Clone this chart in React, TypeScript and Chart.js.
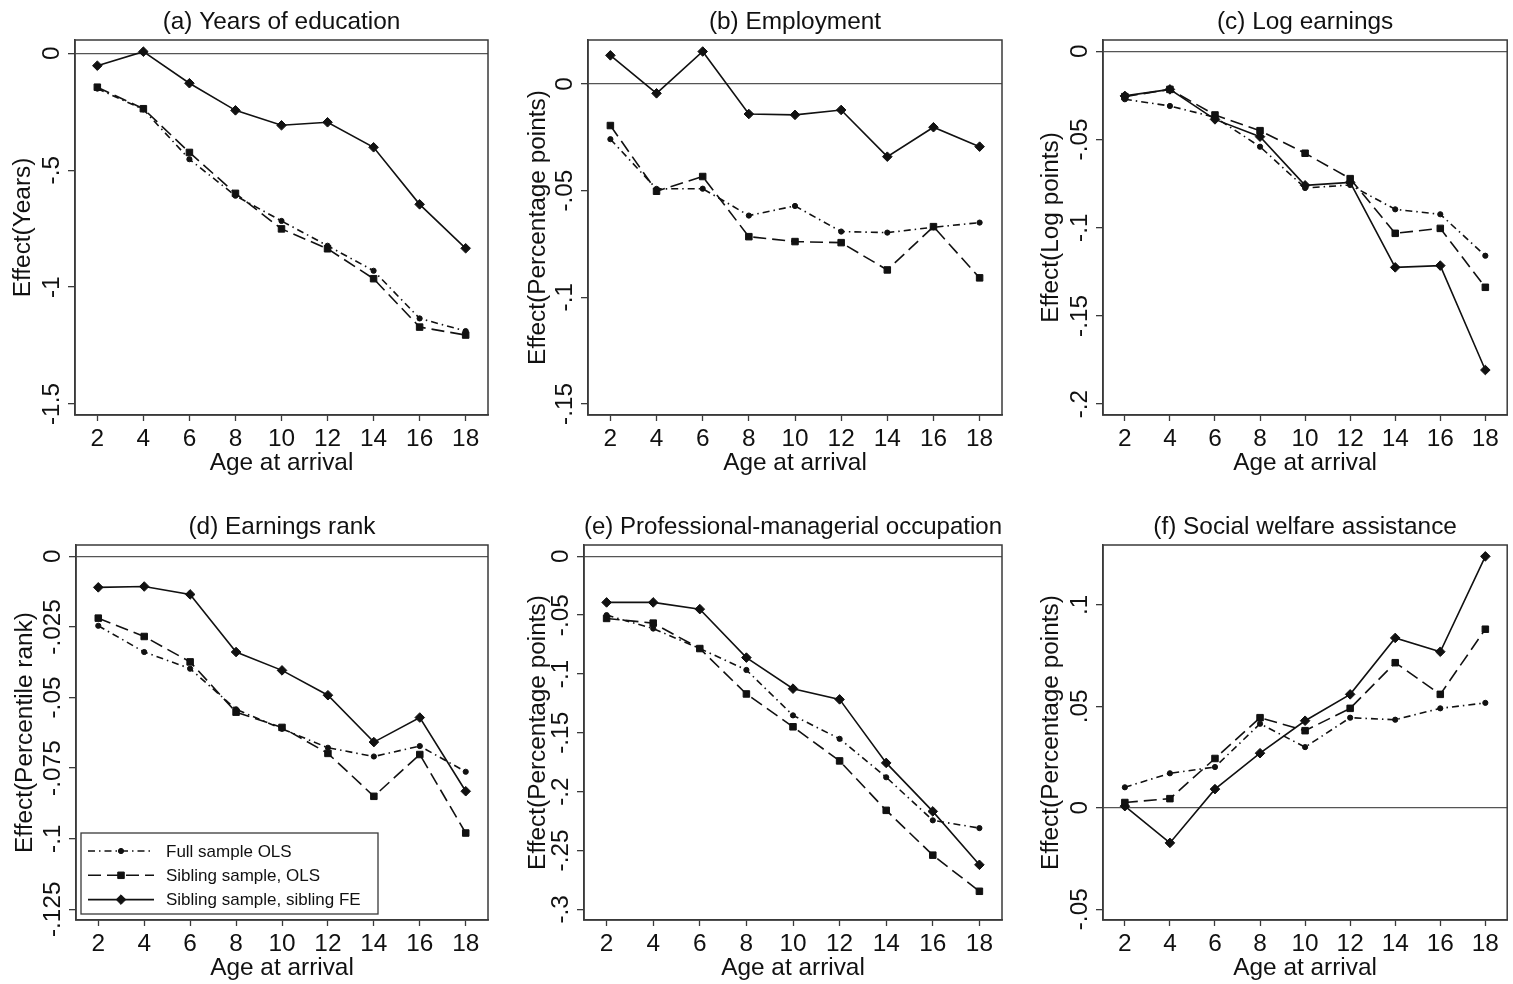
import React, { useEffect, useRef } from 'react';
import { Chart, registerables } from 'chart.js';

Chart.register(...registerables);

// ---------- data ----------
const ages = [2, 4, 6, 8, 10, 12, 14, 16, 18];
const seriesNames = ['Full sample OLS', 'Sibling sample, OLS', 'Sibling sample, sibling FE'];
const xTitle = 'Age at arrival';

const panelTitles = [
  '(a) Years of education',
  '(b) Employment',
  '(c) Log earnings',
  '(d) Earnings rank',
  '(e) Professional-managerial occupation',
  '(f) Social welfare assistance',
];
const yTitles = [
  'Effect(Years)',
  'Effect(Percentage points)',
  'Effect(Log points)',
  'Effect(Percentile rank)',
  'Effect(Percentage points)',
  'Effect(Percentage points)',
];

// (a) Years of education
const eduFull = [-0.151, -0.240, -0.453, -0.609, -0.717, -0.823, -0.930, -1.134, -1.188];
const eduSib = [-0.145, -0.237, -0.424, -0.599, -0.751, -0.836, -0.964, -1.171, -1.205];
const eduFE = [-0.053, 0.007, -0.128, -0.244, -0.308, -0.295, -0.402, -0.646, -0.834];

// (b) Employment
const empFull = [-0.0259, -0.0492, -0.0491, -0.0617, -0.0572, -0.0692, -0.0697, -0.0672, -0.0650];
const empSib = [-0.0195, -0.0503, -0.0434, -0.0716, -0.0739, -0.0744, -0.0872, -0.0669, -0.0909];
const empFE = [0.0134, -0.0044, 0.0152, -0.0141, -0.0145, -0.0122, -0.0341, -0.0203, -0.0294];

// (c) Log earnings
const logFull = [-0.0272, -0.0310, -0.0374, -0.0541, -0.0775, -0.0758, -0.0896, -0.0924, -0.1159];
const logSib = [-0.0257, -0.0216, -0.0361, -0.0450, -0.0578, -0.0722, -0.1032, -0.1004, -0.1338];
const logFE = [-0.0253, -0.0216, -0.0386, -0.0484, -0.0760, -0.0743, -0.1225, -0.1215, -0.1807];

// (d) Earnings rank
const rankFull = [-0.0246, -0.0339, -0.0398, -0.0542, -0.0611, -0.0678, -0.0709, -0.0672, -0.0763];
const rankSib = [-0.0219, -0.0284, -0.0374, -0.0552, -0.0606, -0.0698, -0.0850, -0.0702, -0.0980];
const rankFE = [-0.0110, -0.0107, -0.0135, -0.0339, -0.0404, -0.0492, -0.0658, -0.0571, -0.0832];

// (e) Professional-managerial occupation
const profFull = [-0.0500, -0.0614, -0.0784, -0.0966, -0.1352, -0.1551, -0.1878, -0.2244, -0.2310];
const profSib = [-0.0528, -0.0568, -0.0784, -0.1170, -0.1449, -0.1739, -0.2159, -0.2540, -0.2847];
const profFE = [-0.0392, -0.0392, -0.0449, -0.0861, -0.1125, -0.1216, -0.1756, -0.2168, -0.2622];

// (f) Social welfare assistance
const welfFull = [0.0101, 0.0170, 0.0201, 0.0414, 0.0299, 0.0444, 0.0434, 0.0490, 0.0517];
const welfSib = [0.0026, 0.0045, 0.0243, 0.0444, 0.0380, 0.0490, 0.0715, 0.0559, 0.0880];
const welfFE = [0.0008, -0.0173, 0.0092, 0.0269, 0.0429, 0.0559, 0.0837, 0.0769, 0.1239];

// y tick values
const ticksA = [0, -0.5, -1, -1.5];
const ticksB = [0, -0.05, -0.1, -0.15];
const ticksC = [0, -0.05, -0.1, -0.15, -0.2];
const ticksD = [0, -0.025, -0.05, -0.075, -0.1, -0.125];
const ticksE = [0, -0.05, -0.1, -0.15, -0.2, -0.25, -0.3];
const ticksF = [-0.05, 0, 0.05, 0.1];

// y ranges
const rangeA = [-1.547, 0.0569];
const rangeB = [-0.1552, 0.0206];
const rangeC = [-0.2062, 0.0064];
const rangeD = [-0.1288, 0.004];
const rangeE = [-0.3091, 0.0096];
const rangeF = [-0.0553, 0.1295];

// ---------- styles / layout ----------
const FAMILY = "'Liberation Sans', Arial, Helvetica, sans-serif";
const FS = 24.4;
const INK = '#111';
const FRAME = '#3a3a3a';
const Y_AXIS_W = 75;
const TOP_H = 40;
const BOTTOM_H = 62;
const TITLE_PAD_TOP = 10;

const seriesStyles = [
  { dash: [7, 4, 1.5, 4], point: 'circle', radius: 2.6 },
  { dash: [13, 6], point: 'rect', radius: 4.6 },
  { dash: [], point: 'rectRot', radius: 4.8 },
];

const panelBoxes = [
  { L: 75, T: 40, R: 488, B: 415, right: 10, yPad: 11 },
  { L: 588, T: 40, R: 1002, B: 415, right: 10, yPad: 13 },
  { L: 1103, T: 40, R: 1512, B: 415, right: 1, yPad: 11.3 },
  { L: 76, T: 545, R: 488, B: 920, right: 10, yPad: 11.7 },
  { L: 584, T: 545, R: 1002, B: 920, right: 10, yPad: 17 },
  { L: 1103, T: 545, R: 1512, B: 920, right: 1, yPad: 11.3 },
];

const panelSeries = [
  [eduFull, eduSib, eduFE],
  [empFull, empSib, empFE],
  [logFull, logSib, logFE],
  [rankFull, rankSib, rankFE],
  [profFull, profSib, profFE],
  [welfFull, welfSib, welfFE],
];
const panelTicks = [ticksA, ticksB, ticksC, ticksD, ticksE, ticksF];
const panelRanges = [rangeA, rangeB, rangeC, rangeD, rangeE, rangeF];

function fmt(v: number): string {
  if (Math.abs(v) < 1e-12) return '0';
  const s = String(+v.toFixed(4));
  return s.replace(/^(-?)0\./, '$1.');
}

function drawMarker(ctx: CanvasRenderingContext2D, style: string, x: number, y: number, r: number) {
  ctx.beginPath();
  if (style === 'circle') {
    ctx.arc(x, y, r, 0, Math.PI * 2);
  } else if (style === 'rect') {
    const h = r * Math.SQRT1_2;
    ctx.rect(x - h, y - h, 2 * h, 2 * h);
  } else {
    ctx.moveTo(x, y - r);
    ctx.lineTo(x + r, y);
    ctx.lineTo(x, y + r);
    ctx.lineTo(x - r, y);
    ctx.closePath();
  }
  ctx.fill();
  ctx.stroke();
}

const framePlugin = {
  id: 'frameBox',
  beforeDatasetsDraw(chart: any) {
    const { ctx, chartArea: a } = chart;
    ctx.save();
    ctx.strokeStyle = FRAME;
    ctx.lineWidth = 1.5;
    ctx.strokeRect(a.left, a.top, a.right - a.left, a.bottom - a.top);
    ctx.restore();
  },
};

const yTickPlugin = {
  id: 'rotatedYTicks',
  afterDraw(chart: any) {
    const s = chart.scales.y;
    const ctx = chart.ctx;
    ctx.save();
    ctx.fillStyle = INK;
    ctx.font = `${FS}px ${FAMILY}`;
    ctx.textAlign = 'center';
    ctx.textBaseline = 'alphabetic';
    s.ticks.forEach((t: any) => {
      const y = s.getPixelForValue(t.value);
      ctx.save();
      ctx.translate(chart.chartArea.left - 16, y);
      ctx.rotate(-Math.PI / 2);
      ctx.fillText(fmt(t.value), 0, 0);
      ctx.restore();
    });
    ctx.restore();
  },
};

const legendPlugin = {
  id: 'boxLegend',
  afterDraw(chart: any) {
    const { ctx, chartArea: a } = chart;
    const w = 297;
    const h = 81;
    const x0 = a.left + 5;
    const y0 = a.bottom - 6 - h;
    ctx.save();
    ctx.fillStyle = '#fff';
    ctx.fillRect(x0, y0, w, h);
    ctx.strokeStyle = FRAME;
    ctx.lineWidth = 1.3;
    ctx.strokeRect(x0, y0, w, h);
    chart.data.datasets.forEach((ds: any, i: number) => {
      const st = seriesStyles[i];
      const yy = y0 + 18 + i * 24.3;
      ctx.strokeStyle = INK;
      ctx.fillStyle = INK;
      ctx.lineWidth = 1.6;
      ctx.setLineDash(st.dash);
      ctx.beginPath();
      ctx.moveTo(x0 + 7, yy);
      ctx.lineTo(x0 + 73, yy);
      ctx.stroke();
      ctx.setLineDash([]);
      ctx.lineWidth = 1;
      drawMarker(ctx, st.point, x0 + 40, yy, st.radius);
      ctx.fillStyle = INK;
      ctx.font = `17px ${FAMILY}`;
      ctx.textAlign = 'left';
      ctx.textBaseline = 'middle';
      ctx.fillText(ds.label, x0 + 85, yy + 1);
    });
    ctx.restore();
  },
};

function Panel({ idx }: { idx: number }) {
  const ref = useRef<HTMLCanvasElement | null>(null);
  const box = panelBoxes[idx];
  const width = box.R - box.L + Y_AXIS_W + box.right;
  const height = box.B - box.T + TOP_H + BOTTOM_H;

  useEffect(() => {
    if (!ref.current) return;
    const font = { family: FAMILY, size: FS, lineHeight: 1 };
    const datasets = panelSeries[idx].map((vals, i) => {
      const st = seriesStyles[i];
      return {
        label: seriesNames[i],
        data: ages.map((a, j) => ({ x: a, y: vals[j] })),
        borderColor: INK,
        backgroundColor: INK,
        borderWidth: 1.6,
        borderDash: st.dash,
        pointStyle: st.point,
        pointRadius: st.radius,
        pointBorderWidth: 1,
        pointBackgroundColor: INK,
        pointBorderColor: INK,
        tension: 0,
        fill: false,
      };
    });
    const plugins: any[] = [framePlugin, yTickPlugin];
    if (idx === 3) plugins.push(legendPlugin);
    const chart = new Chart(ref.current, {
      type: 'line',
      data: { datasets },
      options: {
        responsive: false,
        animation: false,
        devicePixelRatio: 1,
        layout: { padding: { left: 0, right: box.right, top: 0, bottom: 0 } },
        plugins: {
          legend: { display: false },
          tooltip: { enabled: false },
          title: {
            display: true,
            text: panelTitles[idx],
            fullSize: false,
            color: INK,
            font: { family: FAMILY, size: FS, lineHeight: 1, weight: 'normal' },
            padding: { top: TITLE_PAD_TOP, bottom: TOP_H - FS - TITLE_PAD_TOP },
          },
        },
        scales: {
          x: {
            type: 'linear',
            min: 1.03,
            max: 18.97,
            afterBuildTicks: (s: any) => {
              s.ticks = ages.map((v) => ({ value: v }));
            },
            afterFit: (s: any) => {
              s.height = BOTTOM_H;
            },
            ticks: { color: INK, font, padding: 6, maxRotation: 0, autoSkip: false },
            grid: { drawOnChartArea: false, tickLength: 6, tickColor: FRAME, tickWidth: 1.3 },
            border: { display: true, color: FRAME, width: 1.5 },
            title: { display: true, text: xTitle, color: INK, font, padding: { top: 0, bottom: 1.3 } },
          },
          y: {
            type: 'linear',
            min: panelRanges[idx][0],
            max: panelRanges[idx][1],
            afterBuildTicks: (s: any) => {
              s.ticks = panelTicks[idx].map((v) => ({ value: v }));
            },
            afterFit: (s: any) => {
              s.width = Y_AXIS_W;
            },
            ticks: { display: false },
            grid: {
              drawOnChartArea: true,
              color: (c: any) => (c.tick && Math.abs(c.tick.value) < 1e-12 ? '#555' : 'rgba(0,0,0,0)'),
              lineWidth: 1.3,
              tickLength: 7,
              tickColor: FRAME,
              tickWidth: 1.3,
            },
            border: { display: true, color: FRAME, width: 1.5 },
            title: { display: true, text: yTitles[idx], color: INK, font, padding: { top: box.yPad, bottom: 0 } },
          },
        },
      } as any,
      plugins,
    });
    return () => chart.destroy();
  }, [idx]);

  return (
    <canvas
      ref={ref}
      width={width}
      height={height}
      style={{
        position: 'absolute',
        left: box.L - Y_AXIS_W,
        top: box.T - TOP_H,
        width,
        height,
      }}
    />
  );
}

export default function App() {
  return (
    <div
      style={{
        position: 'fixed',
        left: 0,
        top: 0,
        width: 1513,
        height: 984,
        background: '#fff',
        overflow: 'hidden',
      }}
    >
      {panelTitles.map((_, i) => (
        <Panel key={i} idx={i} />
      ))}
    </div>
  );
}
